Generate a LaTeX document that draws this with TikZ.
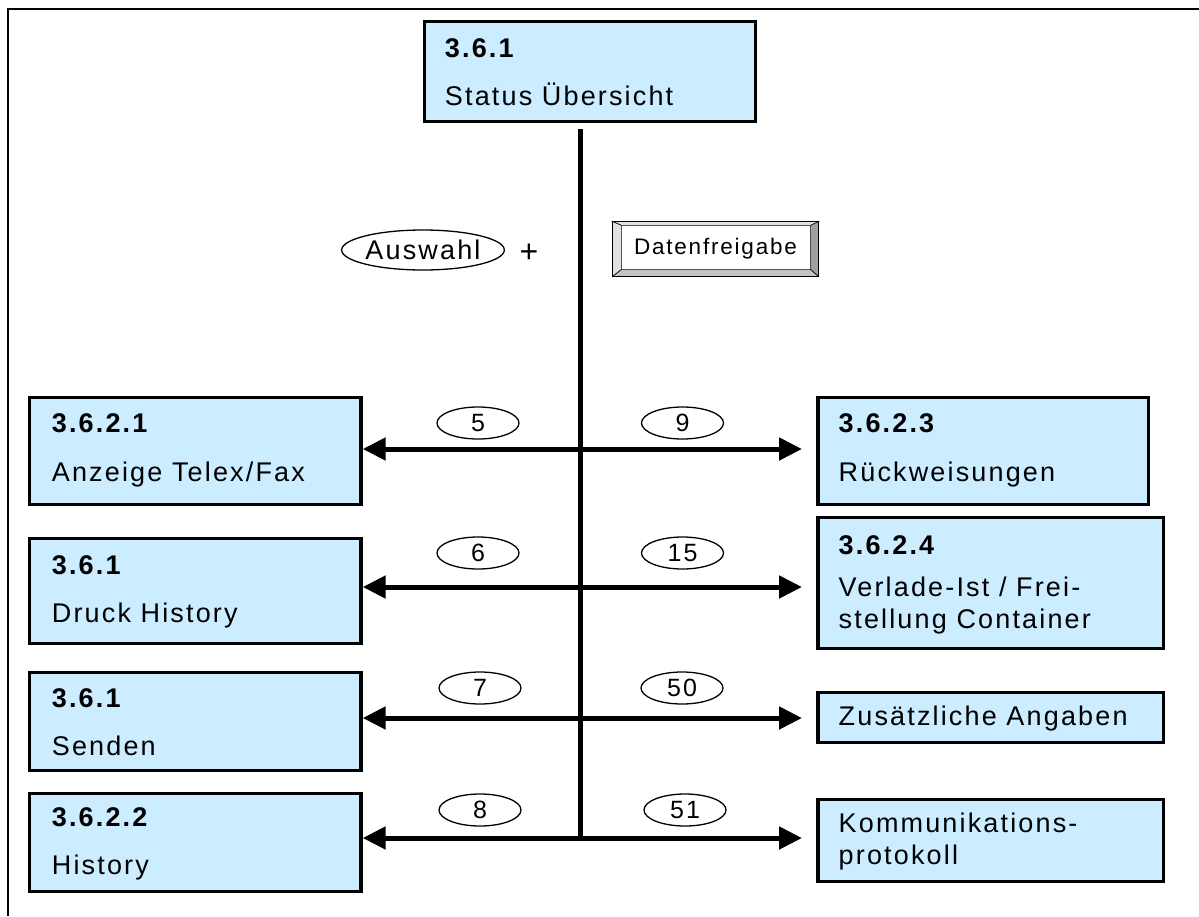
\documentclass[tikz,border=0pt]{standalone}
\usepackage{fontspec}
\setmainfont[LetterSpace=8]{Liberation Sans}
\usetikzlibrary{arrows.meta,shapes.geometric,shadows}
\definecolor{boxblue}{RGB}{204,236,255}
\definecolor{bevlight}{RGB}{225,225,225}
\definecolor{bevmid}{RGB}{195,195,195}
\definecolor{bevdark}{RGB}{160,160,160}
\begin{document}
\begin{tikzpicture}[x=1pt,y=-1pt,
  box/.style={draw, line width=3.5pt, fill=boxblue, rectangle, inner sep=0pt,
    drop shadow={shadow xshift=1.5pt,shadow yshift=-1.5pt,fill=black,opacity=1}},
  boxtext/.style={anchor=west, align=left, inner sep=0pt, font=\fontsize{27}{32}\selectfont},
  numoval/.style={ellipse, draw, line width=1.3pt, minimum width=82pt, minimum height=32pt,
    inner sep=0pt, font=\fontsize{25}{25}\selectfont},
  conn/.style={line width=5pt, -{Triangle[length=23pt,width=22pt]}},
  spine/.style={line width=5pt},
  frame/.style={line width=2pt},
  bevel/.style={draw=black, line width=0.6pt}
]
\useasboundingbox (0,0) rectangle (1199,916);
\draw[frame] (7.5,916) -- (7.5,8.5) -- (1199,8.5);

% boxes
\node[box, minimum width=331pt, minimum height=100pt] (top) at (590,71.5) {};
\node[box, minimum width=331.5pt, minimum height=107pt] (L1) at (195.2,451) {};
\node[box, minimum width=331.5pt, minimum height=105pt] (L2) at (195.2,591) {};
\node[box, minimum width=331.5pt, minimum height=98pt] (L3) at (195.2,721.5) {};
\node[box, minimum width=331.5pt, minimum height=98pt] (L4) at (195.2,842.5) {};
\node[box, minimum width=330.5pt, minimum height=107pt] (R1) at (983,451) {};
\node[box, minimum width=345.5pt, minimum height=131pt] (R2) at (990.5,583) {};
\node[box, minimum width=345.5pt, minimum height=50pt] (R3) at (990.5,717.5) {};
\node[box, minimum width=345.5pt, minimum height=82pt] (R4) at (990.5,840.5) {};

% box texts
\node[boxtext] (ttop) at ([xshift=22pt,yshift=-1pt]top.west) {\textbf{3.6.1}\\[16pt]Status Übersicht};
\node[boxtext] (tL1) at ([xshift=24pt,yshift=1pt]L1.west) {\textbf{3.6.2.1}\\[17pt]Anzeige Telex/Fax};
\node[boxtext] (tL2) at ([xshift=24pt,yshift=-1pt]L2.west) {\textbf{3.6.1}\\[16pt]Druck History};
\node[boxtext] (tL3) at ([xshift=24pt,yshift=-1pt]L3.west) {\textbf{3.6.1}\\[16pt]Senden};
\node[boxtext] (tL4) at ([xshift=24pt,yshift=-1pt]L4.west) {\textbf{3.6.2.2}\\[16pt]History};
\node[boxtext] (tR1) at ([xshift=22.5pt,yshift=1pt]R1.west) {\textbf{3.6.2.3}\\[17pt]Rückweisungen};
\node[boxtext] (tR2) at ([xshift=22.5pt,yshift=-2pt]R2.west) {\textbf{3.6.2.4}\\[10pt]Verlade-Ist / Frei-\\stellung Container};
\node[boxtext] (tR3) at ([xshift=22.5pt,yshift=-1pt]R3.west) {Zusätzliche Angaben};
\node[boxtext] (tR4) at ([xshift=22.5pt,yshift=-1pt]R4.west) {Kommunikations-\\protokoll};

% spine junctions
\coordinate (j1) at (580,449);
\coordinate (j2) at (580,587);
\coordinate (j3) at (580,718);
\coordinate (j4) at (580,838);

\draw[spine, shorten <=6pt] (top.south -| j4) -- ([yshift=-2.5pt]j4);

\draw[conn] (j1) -- (L1.east |- j1);
\draw[conn] (j2) -- (L2.east |- j2);
\draw[conn] (j3) -- (L3.east |- j3);
\draw[conn] (j4) -- (L4.east |- j4);
\draw[conn, shorten >=14pt] (j1) -- (R1.west |- j1);
\draw[conn, shorten >=14pt] (j2) -- (R2.west |- j2);
\draw[conn, shorten >=14pt] (j3) -- (R3.west |- j3);
\draw[conn, shorten >=14pt] (j4) -- (R4.west |- j4);

% number ovals
\node[numoval] (e5) at (478,423) {5};
\node[numoval] (e6) at (478,553) {6};
\node[numoval] (e7) at (480,688) {7};
\node[numoval] (e8) at (480,810) {8};
\node[numoval] (e9) at (682.5,423) {9};
\node[numoval] (e15) at (682.5,553) {15};
\node[numoval] (e50) at (682,688) {50};
\node[numoval] (e51) at (685,810) {51};

% selection
\node[ellipse, draw, line width=1.3pt, minimum width=158pt, minimum height=40pt, inner sep=0pt,
  font=\fontsize{27}{27}\selectfont] (auswahl) at (423,250) {Auswahl};
\node[font=\fontsize{32}{32}\selectfont] (plus) at (529,253) {+};

% button
\node[rectangle, draw, line width=1.2pt, fill=white, minimum width=205pt, minimum height=54pt,
  inner sep=0pt, font=\fontsize{22.5}{22.5}\selectfont] (daten) at (715.5,249) {Datenfreigabe};
\fill[bevlight, bevel] (daten.north west) -- (daten.north east)
  -- ([xshift=-8pt,yshift=-4pt]daten.north east) -- ([xshift=9pt,yshift=-4pt]daten.north west) -- cycle;
\fill[bevlight, bevel] (daten.north west) -- ([xshift=9pt,yshift=-4pt]daten.north west)
  -- ([xshift=9pt,yshift=7pt]daten.south west) -- (daten.south west) -- cycle;
\fill[bevdark, bevel] (daten.north east) -- (daten.south east)
  -- ([xshift=-8pt,yshift=7pt]daten.south east) -- ([xshift=-8pt,yshift=-4pt]daten.north east) -- cycle;
\fill[bevmid, bevel] (daten.south west) -- (daten.south east)
  -- ([xshift=-8pt,yshift=7pt]daten.south east) -- ([xshift=9pt,yshift=7pt]daten.south west) -- cycle;
\draw[line width=1.2pt] (daten.north west) rectangle (daten.south east);
\end{tikzpicture}
\end{document}
